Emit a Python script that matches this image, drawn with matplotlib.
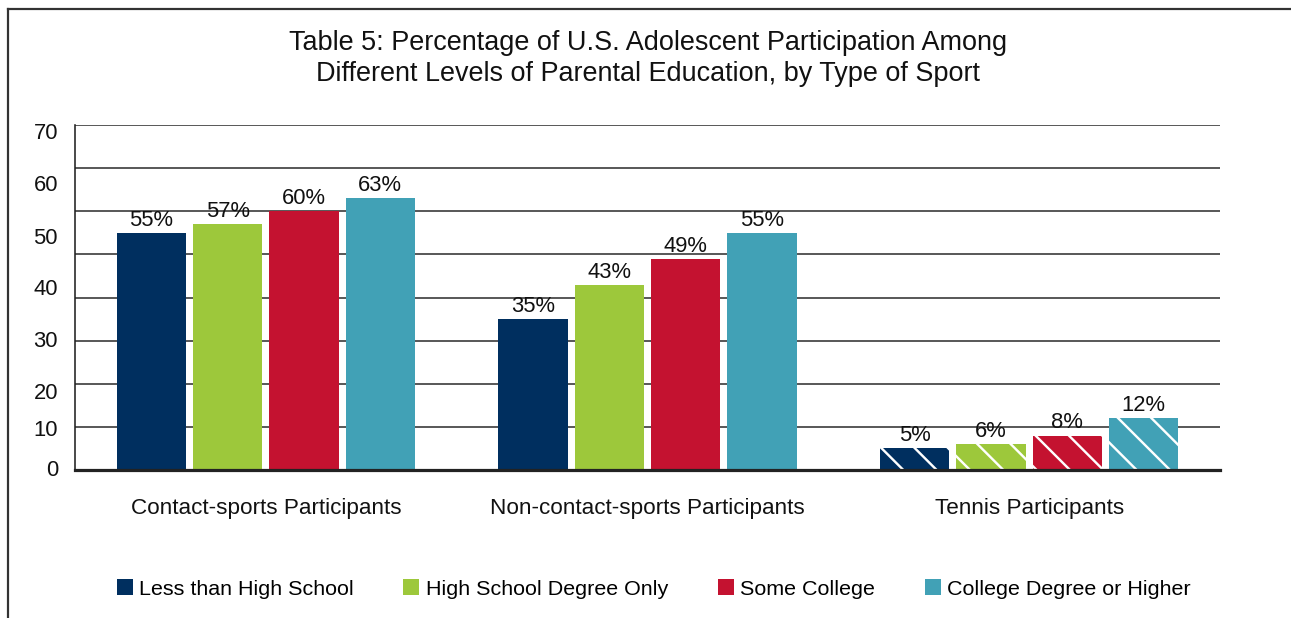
import matplotlib
matplotlib.use("Agg")
import matplotlib.pyplot as plt
import numpy as np
from matplotlib.lines import Line2D
from matplotlib.patches import Patch

categories = ["Contact-sports Participants", "Non-contact-sports Participants", "Tennis Participants"]
series_names = ["Less than High School", "High School Degree Only", "Some College", "College Degree or Higher"]
less_hs = [55, 35, 5]
hs_only = [57, 43, 6]
some_college = [60, 49, 8]
college_plus = [63, 55, 12]
# y tick labels as printed in the original (they sit slightly off the gridlines)
ytick_labels = ["0", "10", "20", "30", "40", "50", "60", "70"]
ytick_label_pos = [0.5, 9.8, 18.3, 30.3, 42.5, 54.3, 66.5, 78.5]

colors = ["#002F5F", "#9DC83B", "#C41230", "#41A1B6"]
series = [less_hs, hs_only, some_college, college_plus]
hatched_group = 2

DPI = 200
W, H = 1291, 618
def pt(px):
    return px * 72.0 / DPI

plt.rcParams['font.family'] = ['Liberation Sans', 'DejaVu Sans']
plt.rcParams['hatch.linewidth'] = pt(2.4)

fig = plt.figure(figsize=(W / DPI, H / DPI), dpi=DPI)
ax = fig.add_axes([75 / W, (H - 470) / H, (1220 - 75) / W, (470 - 125) / H])

x = np.arange(len(categories))
width = 0.181
step = 0.2
for i, (vals, c) in enumerate(zip(series, colors)):
    xs = x + (i - 1.5) * step
    bars = ax.bar(xs, vals, width, color=c, linewidth=0, zorder=3)
    bars[hatched_group].set_hatch('\\\\')
    bars[hatched_group].set_edgecolor('white')
    bars[hatched_group].set_linewidth(0)
    for xi, v in zip(xs, vals):
        ax.annotate(f"{v}%", (xi, v), xytext=(0, pt(2)), textcoords='offset points',
                    ha='center', va='bottom', fontsize=pt(22), color='#111111', zorder=4)

ax.set_xlim(-0.5, 2.5)
ax.set_ylim(0, 80)
ax.set_yticks(np.arange(0, 81, 10))
ax.yaxis.set_major_formatter(plt.NullFormatter())
ax.set_yticks(ytick_label_pos, minor=True)
ax.set_yticklabels(ytick_labels, minor=True)
ax.tick_params(axis='y', which='both', length=0)
ax.tick_params(axis='y', which='minor', labelsize=pt(22), pad=pt(17), colors='#111111')
ax.grid(axis='y', which='major', color='#333333', linewidth=pt(1.6), zorder=0)
ax.set_xticks(x)
ax.set_xticklabels(categories, fontsize=pt(22.5), color='#111111')
ax.tick_params(axis='x', length=0, pad=pt(28))
for s in ['top', 'right']:
    ax.spines[s].set_visible(False)
ax.spines['left'].set_linewidth(pt(1.6))
ax.spines['left'].set_color('#222222')
ax.spines['bottom'].set_linewidth(pt(3.2))
ax.spines['bottom'].set_color('#222222')
ax.spines['bottom'].set_zorder(5)

fig.text(0.5023, (H - 58.5) / H, "Table 5: Percentage of U.S. Adolescent Participation Among\nDifferent Levels of Parental Education, by Type of Sport",
         ha='center', va='center', fontsize=pt(27), linespacing=1.22, color='#111111')

handles = [Patch(facecolor=c, edgecolor='none') for c in colors]
fig.legend(handles, series_names, loc='center', bbox_to_anchor=(0.5063, (H - 589) / H), ncol=4,
           frameon=False, fontsize=pt(21.5), handlelength=0.75, handleheight=0.75,
           handletextpad=0.3, columnspacing=2.3)

# outer frame
fig.add_artist(Line2D([8 / W, 8 / W], [0, (H - 9) / H], color='#333333', linewidth=pt(2.2)))
fig.add_artist(Line2D([8 / W, 1], [(H - 9) / H, (H - 9) / H], color='#333333', linewidth=pt(2.2)))

fig.savefig("out.png", dpi=DPI)
